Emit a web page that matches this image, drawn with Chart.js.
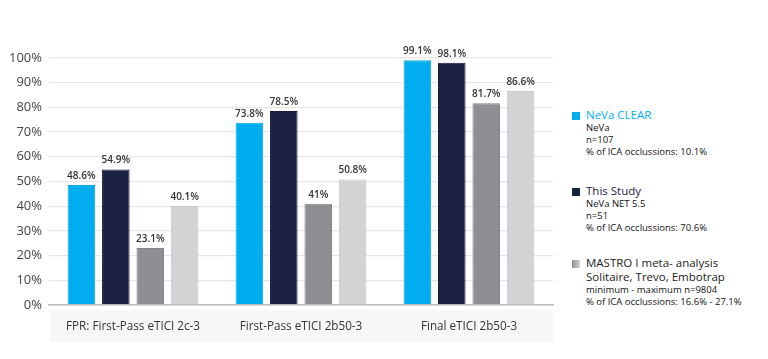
<!DOCTYPE html>
<html>
<head>
<meta charset="utf-8">
<script src="https://cdn.jsdelivr.net/npm/chart.js@4.4.0/dist/chart.umd.min.js"></script>
<style>
  html, body { margin: 0; padding: 0; background: #fff; }
  body { width: 768px; height: 359px; position: relative; overflow: hidden; font-family: "Open Sans", sans-serif; }
  #wrap { position: absolute; left: 0; top: 0; width: 560px; height: 359px; }
  #legend { position: absolute; left: 572px; top: 108px; width: 196px; color: #222; }
  .item { position: relative; padding-left: 14px; }
  .item .sw { position: absolute; left: 0; top: 4px; width: 8px; height: 8px; }
  .item .t { font-size: 11.5px; line-height: 14px; }
  .item .s { font-size: 9.5px; line-height: 12.2px; color: #111; }
</style>
</head>
<body>
<div id="wrap"><canvas id="chart" width="560" height="359"></canvas></div>
<div id="legend"></div>
<script>
// datos
const categories = ['FPR: First-Pass eTICI 2c-3', 'First-Pass eTICI 2b50-3', 'Final eTICI 2b50-3'];
const seriesNames = ['NeVa CLEAR', 'This Study', 'MASTRO I meta- analysis'];
const nevaClear = [48.6, 73.8, 99.1];
const thisStudy = [54.9, 78.5, 98.1];
const mastroMin = [23.1, 41, 81.7];
const mastroMax = [40.1, 50.8, 86.6];
const yTicks = [0, 10, 20, 30, 40, 50, 60, 70, 80, 90, 100];

const colors = ['#00aeef', '#1b2145', '#8e8f92', '#d2d3d5'];

// leyenda lateral (texto real)
const legendItems = [
  { title: 'NeVa CLEAR', titleColor: '#00aeef', sw: colors[0],
    lines: ['NeVa', 'n=107', '% of ICA occlussions: 10.1%'] },
  { title: 'This Study', titleColor: '#1b2145', sw: colors[1],
    lines: ['NeVa NET 5.5', 'n=51', '% of ICA occlussions: 70.6%'] },
  { title: 'MASTRO I meta- analysis', titleColor: '#222', sw: 'linear-gradient(90deg,#8e8f92,#d2d3d5)',
    title2: 'Solitaire, Trevo, Embotrap',
    lines: ['minimum - maximum n=9804', '% of ICA occlussions: 16.6% - 27.1%'] }
];
const gaps = [0, 25, 22];
const legendEl = document.getElementById('legend');
legendItems.forEach((it, i) => {
  const d = document.createElement('div');
  d.className = 'item';
  d.style.marginTop = gaps[i] + 'px';
  let html = `<span class="sw" style="background:${it.sw}"></span>`;
  html += `<div class="t" style="color:${it.titleColor}">${it.title}</div>`;
  if (it.title2) html += `<div class="t">${it.title2}</div>`;
  it.lines.forEach(l => { html += `<div class="s">${l}</div>`; });
  d.innerHTML = html;
  legendEl.appendChild(d);
});

// fondo gris de las etiquetas del eje x
const labelBox = {
  id: 'labelBox',
  beforeDraw(chart) {
    const { ctx, chartArea } = chart;
    ctx.save();
    ctx.fillStyle = '#f6f7f9';
    ctx.fillRect(chartArea.left + 1, chartArea.bottom + 5, chartArea.right - chartArea.left - 1, 32);
    ctx.restore();
  }
};

// etiquetas de valor encima de cada barra
const valueLabels = {
  id: 'valueLabels',
  afterDatasetsDraw(chart) {
    const { ctx } = chart;
    ctx.save();
    ctx.font = '600 10px "Open Sans", sans-serif';
    ctx.fillStyle = '#333';
    ctx.textAlign = 'center';
    ctx.textBaseline = 'bottom';
    chart.data.datasets.forEach((ds, di) => {
      chart.getDatasetMeta(di).data.forEach((bar, i) => {
        ctx.fillText(ds.data[i] + '%', bar.x, bar.y - 4);
      });
    });
    ctx.restore();
  }
};

const mk = (label, data, color, border) => ({
  label, data, backgroundColor: color, borderColor: border, borderWidth: 1,
  categoryPercentage: 0.82, barPercentage: 0.8
});

new Chart(document.getElementById('chart'), {
  type: 'bar',
  data: {
    labels: categories,
    datasets: [
      mk(seriesNames[0], nevaClear, colors[0], '#0aa6e0'),
      mk(seriesNames[1], thisStudy, colors[1], '#141a3a'),
      mk(seriesNames[2] + ' min', mastroMin, colors[2], '#85868a'),
      mk(seriesNames[2] + ' max', mastroMax, colors[3], '#c8c9cb')
    ]
  },
  options: {
    responsive: false,
    animation: false,
    layout: { padding: { top: 58, right: 7, bottom: 10, left: 2 } },
    plugins: { legend: { display: false }, tooltip: { enabled: false } },
    scales: {
      x: {
        grid: { display: false, drawTicks: false },
        border: { color: '#bdbdbd', width: 1.5 },
        ticks: { color: '#333', font: { family: '"Open Sans", sans-serif', size: 11.7 }, padding: 15 }
      },
      y: {
        min: 0, max: 100,
        afterBuildTicks(axis) { axis.ticks = yTicks.map(v => ({ value: v })); },
        grid: { color: '#e6e6e6', lineWidth: 1.2, drawTicks: false },
        border: { display: false },
        ticks: {
          color: '#444', padding: 7,
          font: { family: '"Open Sans", sans-serif', size: 13 },
          callback: v => v + '%'
        }
      }
    }
  },
  plugins: [labelBox, valueLabels]
});
</script>
</body>
</html>
